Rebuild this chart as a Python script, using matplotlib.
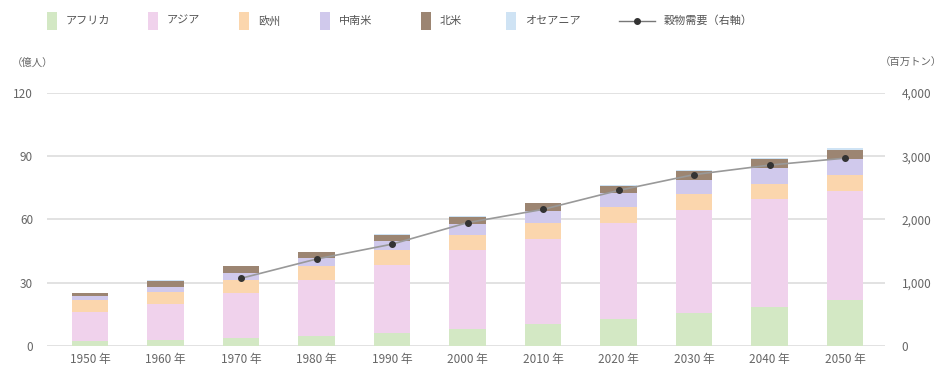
import numpy as np
import matplotlib.pyplot as plt
from matplotlib.patches import Rectangle
from matplotlib.lines import Line2D
from matplotlib.ticker import FuncFormatter

plt.rcParams['font.family'] = ['Noto Sans CJK JP', 'DejaVu Sans']

years = ["1950 年", "1960 年", "1970 年", "1980 年", "1990 年", "2000 年",
         "2010 年", "2020 年", "2030 年", "2040 年", "2050 年"]

# population (億人)
africa  = [2.3, 2.8, 3.6, 4.8, 6.3, 8.1, 10.2, 12.8, 15.6, 18.6, 21.9]
asia    = [14.0, 17.0, 21.3, 26.3, 31.9, 37.2, 40.7, 45.7, 48.9, 51.0, 51.8]
europe  = [5.5, 6.0, 6.6, 6.9, 7.2, 7.4, 7.4, 7.4, 7.4, 7.4, 7.3]
latam   = [1.7, 2.2, 2.9, 3.6, 4.4, 5.3, 5.9, 6.5, 7.0, 7.5, 7.6]
namer   = [1.7, 3.0, 3.5, 2.9, 2.8, 3.4, 3.4, 3.7, 4.0, 4.4, 4.6]
oceania = [0.1, 0.2, 0.2, 0.2, 0.3, 0.3, 0.4, 0.4, 0.5, 0.5, 0.6]

# grain demand (百万トン), from 1970
grain = [np.nan, np.nan, 1070, 1375, 1610, 1950, 2160, 2460, 2710, 2860, 2970]

names = ["アフリカ", "アジア", "欧州", "中南米", "北米", "オセアニア"]
colors = ["#d3e8c4", "#f0d2ec", "#fbd6ad", "#d0c9ec", "#9c8572", "#cfe3f4"]
series = [africa, asia, europe, latam, namer, oceania]

fig = plt.figure(figsize=(9.47, 3.79), dpi=100)
ax = fig.add_axes([0.0496, 0.0871, 0.885, 0.6675])

x = np.arange(len(years))
bottom = np.zeros(len(years))
for vals, col in zip(series, colors):
    ax.bar(x, vals, 0.48, bottom=bottom, color=col, zorder=2)
    bottom += np.array(vals)

ax.set_ylim(0, 120)
ax.set_yticks([0, 30, 60, 90, 120])
ax.set_xlim(-0.57, 10.53)
ax.set_xticks(x)
ax.set_xticklabels(years)
ax.grid(axis='y', color='#dddddd', lw=1.2, zorder=0)
for s in ax.spines.values():
    s.set_visible(False)
ax.tick_params(length=0, colors='#666666', labelsize=8.5)
ax.tick_params(axis='y', pad=10)
ax.tick_params(axis='x', pad=5)

ax2 = ax.twinx()
ax2.set_ylim(0, 4000)
ax2.set_yticks([0, 1000, 2000, 3000, 4000])
ax2.yaxis.set_major_formatter(FuncFormatter(lambda v, p: f"{int(v):,}"))
for s in ax2.spines.values():
    s.set_visible(False)
ax2.tick_params(length=0, colors='#666666', labelsize=8.5, pad=12)
ax2.plot(x, grain, color='#999999', lw=1.2, marker='o', markersize=4,
         markerfacecolor='#333333', markeredgecolor='#333333', zorder=3)

fig.text(0.012, 0.835, "（億人）", fontsize=7.5, color='#666666', va='center')
fig.text(0.995, 0.835, "（百万トン）", fontsize=7.5, color='#666666', va='center', ha='right')

# legend drawn by hand (tall swatches)
W, H = 947.0, 379.0
ly = 1 - 21 / H
patch_x = [47, 148, 239, 320, 421, 506]
for px, col, name in zip(patch_x, colors, names):
    fig.patches.append(Rectangle((px / W, ly - 9 / H), 10 / W, 18 / H,
                                 facecolor=col, transform=fig.transFigure))
    fig.text((px + 19) / W, ly, name, fontsize=8, color='#555555', va='center')
fig.lines.append(Line2D([619 / W, 655 / W], [ly, ly], color='#777777', lw=1,
                        transform=fig.transFigure))
fig.lines.append(Line2D([637 / W], [ly], marker='o', markersize=4, color='#333333',
                        transform=fig.transFigure))
fig.text(664 / W, ly, "穀物需要（右軸）", fontsize=8, color='#555555', va='center')

fig.savefig("out.png", dpi=100)
